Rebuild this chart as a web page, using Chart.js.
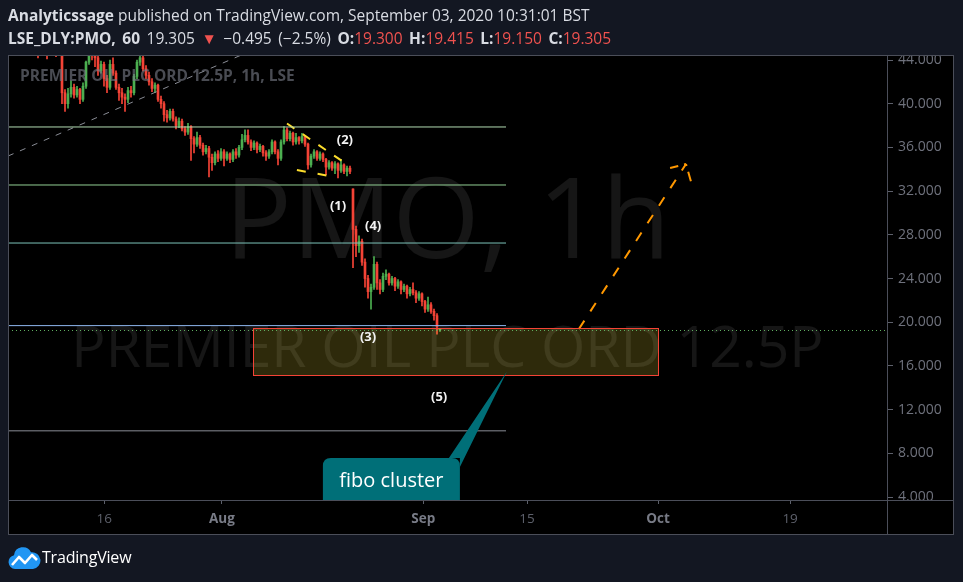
<!DOCTYPE html>
<html>
<head>
<meta charset="utf-8">
<title>PMO 1h</title>
<script src="https://cdn.jsdelivr.net/npm/chart.js@4.4.0/dist/chart.umd.min.js"></script>
<style>
  body { margin: 0; background: #131722; font-family: "Open Sans", sans-serif; }
  #wrap { position: relative; width: 963px; height: 582px; overflow: hidden; }
  #pmoChart { position: absolute; left: 0; top: 0; }
  .hdr { position: absolute; left: 8px; color: #d9dce3; font-size: 15.5px; line-height: 20px; white-space: nowrap; }
  .l1 { top: 5px; }
  .l2 { top: 28px; word-spacing: 2.5px; }
  .dn { color: #f0524f; }
  #logo { position: absolute; left: 7px; top: 546px; }
  #brand { position: absolute; left: 42px; top: 547px; color: #ffffff; font-size: 16px; line-height: 20px; letter-spacing: -0.2px; }
</style>
</head>
<body>
<div id="wrap">
  <canvas id="pmoChart" width="963" height="582"></canvas>
  <div class="hdr l1"><b>Analyticssage</b> published on TradingView.com, September 03, 2020 10:31:01 BST</div>
  <div class="hdr l2"><b>LSE_DLY:PMO, 60</b> 19.305 <span class="dn">&#9660;</span> &minus;0.495 (&minus;2.5%) <b>O:</b><span class="dn">19.300</span> <b>H:</b><span class="dn">19.415</span> <b>L:</b><span class="dn">19.150</span> <b>C:</b><span class="dn">19.305</span></div>
  <svg id="logo" width="34" height="24" viewBox="0 0 34 24">
    <path d="M8 23 a7 7 0 0 1 -1 -13.8 a9 9 0 0 1 17 -3 a7.5 7.5 0 0 1 2 16.8 z" fill="#2196f3"/>
    <polyline points="5,19 12,11 18,17 25,9 30,14" fill="none" stroke="#ffffff" stroke-width="2.6" stroke-linejoin="round"/>
  </svg>
  <div id="brand">TradingView</div>
</div>

<script>
// ---- hourly candles (one slot = one candle) ----
var firstSlot = 0;
var candleOpen = [
  47.5, 47.0, 46.8, 47.3, 46.5, 46.0, 46.4, 45.8, 46.2, 45.6,
  45.9, 45.2, 45.6, 45.3, 45.0, 45.5, 45.4, 45.0, 44.8, 41.0,
  40.0, 40.9, 41.5, 40.8, 41.3, 40.4, 41.6, 43.8, 45.2, 44.6,
  44.2, 43.0, 43.6, 42.3, 41.5, 43.6, 42.8, 41.5, 41.0, 40.6,
  40.4, 41.2, 41.0, 42.5, 43.8, 44.2, 43.2, 42.6, 42.0, 41.4,
  41.7, 40.4, 40.0, 39.0, 38.7, 39.3, 38.6, 38.0, 38.4, 37.7,
  37.4, 37.9, 36.8, 36.3, 36.9, 36.2, 35.6, 35.9, 35.1, 34.6,
  35.4, 35.0, 35.6, 35.0, 35.4, 34.9, 35.6, 35.3, 36.0, 36.7,
  37.1, 36.5, 36.0, 36.4, 35.8, 36.1, 35.5, 35.2, 35.6, 36.5,
  35.6, 35.0, 36.5, 37.6, 36.8, 37.3, 36.5, 36.9, 36.6, 37.0,
  36.3, 34.4, 35.2, 35.6, 35.0, 35.4, 34.9, 34.2, 34.6, 34.1,
  34.5, 33.9, 34.4, 33.8, 34.1, 32.2, 28.5, 27.0, 27.4, 25.5,
  24.0, 22.8, 23.2, 25.3, 23.6, 23.0, 24.2, 24.4, 23.6, 24.0,
  23.3, 23.7, 23.0, 23.3, 22.6, 23.0, 22.7, 22.2, 22.6, 21.9,
  21.2, 21.6, 21.0, 20.6, 19.3
];
var candleHigh = [
  47.8, 47.4, 47.5, 47.4, 46.7, 46.6, 46.5, 46.4, 46.3, 46.1,
  46.0, 45.8, 45.8, 45.5, 45.7, 45.8, 45.6, 45.3, 45.0, 41.3,
  41.4, 42.1, 41.8, 41.6, 41.4, 41.9, 43.9, 45.4, 45.5, 45.2,
  44.5, 43.9, 43.8, 42.6, 44.0, 44.2, 43.0, 41.8, 41.4, 40.9,
  41.5, 41.6, 42.7, 44.0, 44.7, 44.6, 43.5, 42.9, 42.3, 41.9,
  41.8, 40.7, 40.2, 39.4, 39.5, 39.5, 38.8, 38.7, 38.6, 37.9,
  38.2, 38.0, 37.0, 37.4, 37.1, 36.4, 36.2, 36.1, 35.4, 35.6,
  35.7, 35.9, 35.8, 35.6, 35.5, 35.8, 35.9, 36.2, 37.2, 37.6,
  37.6, 36.7, 36.6, 36.5, 36.3, 36.2, 35.7, 35.8, 36.7, 36.6,
  35.8, 36.7, 37.9, 37.8, 37.5, 37.4, 37.3, 37.0, 37.3, 37.1,
  36.4, 35.4, 35.8, 35.7, 35.6, 35.5, 35.0, 34.8, 34.7, 34.7,
  34.6, 34.9, 34.5, 34.3, 34.3, 32.2, 28.8, 27.9, 27.6, 25.8,
  24.3, 23.5, 26.0, 25.5, 23.9, 24.5, 24.8, 24.5, 24.2, 24.1,
  23.9, 23.8, 23.5, 23.4, 23.2, 23.6, 22.9, 22.8, 22.7, 22.0,
  22.3, 21.8, 21.2, 20.8, 19.415
];
var candleLow = [
  46.6, 46.5, 46.6, 46.3, 45.8, 45.8, 45.4, 45.6, 45.2, 45.3,
  44.2, 44.9, 44.7, 44.1, 44.8, 44.9, 44.3, 44.6, 40.0, 39.3,
  39.6, 40.6, 40.5, 40.6, 40.0, 40.2, 41.4, 43.6, 44.0, 43.4,
  42.6, 42.8, 41.6, 41.0, 41.3, 42.6, 41.3, 40.3, 40.0, 39.3,
  40.1, 40.6, 40.8, 42.3, 43.5, 43.0, 42.3, 41.7, 41.1, 41.0,
  40.2, 39.6, 38.4, 38.3, 38.5, 38.4, 37.7, 37.8, 37.5, 37.1,
  37.2, 34.8, 35.5, 36.1, 35.9, 35.3, 35.4, 33.3, 33.9, 34.4,
  34.7, 34.8, 34.3, 34.8, 34.6, 34.7, 35.0, 35.1, 35.8, 36.5,
  36.3, 35.7, 35.8, 35.5, 35.6, 35.2, 34.8, 35.0, 35.4, 35.4,
  34.4, 34.8, 36.3, 36.6, 36.6, 36.2, 36.3, 36.3, 36.4, 36.1,
  34.0, 34.2, 35.0, 34.8, 34.8, 34.7, 33.5, 34.0, 33.9, 33.6,
  33.2, 33.7, 33.6, 33.4, 33.6, 25.0, 26.0, 26.4, 25.2, 23.2,
  22.2, 21.2, 23.0, 23.0, 22.6, 22.8, 23.9, 23.4, 23.4, 22.9,
  23.1, 22.6, 22.8, 22.2, 22.4, 22.5, 21.8, 22.0, 21.5, 20.9,
  21.0, 20.8, 20.2, 18.9, 19.15
];
var candleClose = [
  47.0, 46.8, 47.3, 46.5, 46.0, 46.4, 45.8, 46.2, 45.6, 45.9,
  45.2, 45.6, 45.3, 45.0, 45.5, 45.4, 45.0, 44.8, 41.0, 40.0,
  40.9, 41.5, 40.8, 41.3, 40.4, 41.6, 43.8, 45.2, 44.6, 44.2,
  43.0, 43.6, 42.3, 41.5, 43.6, 42.8, 41.5, 41.0, 40.6, 40.4,
  41.2, 41.0, 42.5, 43.8, 44.2, 43.2, 42.6, 42.0, 41.4, 41.7,
  40.4, 40.0, 39.0, 38.7, 39.3, 38.6, 38.0, 38.4, 37.7, 37.4,
  37.9, 36.8, 36.3, 36.9, 36.2, 35.6, 35.9, 35.1, 34.6, 35.4,
  35.0, 35.6, 35.0, 35.4, 34.9, 35.6, 35.3, 36.0, 36.7, 37.1,
  36.5, 36.0, 36.4, 35.8, 36.1, 35.5, 35.2, 35.6, 36.5, 35.6,
  35.0, 36.5, 37.6, 36.8, 37.3, 36.5, 36.9, 36.6, 37.0, 36.3,
  34.4, 35.2, 35.6, 35.0, 35.4, 34.9, 34.2, 34.6, 34.1, 34.5,
  33.9, 34.4, 33.8, 34.1, 33.8, 28.5, 27.0, 27.4, 25.5, 24.0,
  22.8, 23.2, 25.3, 23.6, 23.0, 24.2, 24.4, 23.6, 24.0, 23.3,
  23.7, 23.0, 23.3, 22.6, 23.0, 22.7, 22.2, 22.6, 21.9, 21.2,
  21.6, 21.0, 20.6, 19.6, 19.305
];
var lastPrice = 19.305;

// ---- axes ----
var priceTicks = [4, 8, 12, 16, 20, 24, 28, 32, 36, 40, 44];
var timeTickSlots = [32.1, 71.3, 138.4, 173, 216.7, 260.7];
var timeTickLabels = ['16', 'Aug', 'Sep', '15', 'Oct', '19'];

// ---- drawings ----
var fibLevels = [37.87, 32.56, 27.25, 19.69, 10.06];
var fibColors = ['#b2dcb2', '#92cf94', '#7cc4b9', '#8fb8f0', '#8a8d96'];
var fibSlots = [0, 166];
var trendSlots = [0, 90];
var trendPrices = [35.21, 45.91];
var wedgeTopSlots = [93, 113.3];
var wedgeTopPrices = [38.19, 34.39];
var wedgeLowSlots = [96.3, 107.3];
var wedgeLowPrices = [33.93, 33.38];
var pathSlots = [190.3, 226];
var pathPrices = [19.38, 34.48];
var arrowSlots = [220.7, 227.7];
var arrowPrices = [34.11, 32.83];
var zoneSlots = [81.67, 216.67];
var zonePrices = [19.47, 15.17];
var waveLabels = ['(1)', '(2)', '(3)', '(4)', '(5)'];
var waveSlots = [110, 112.3, 120, 121.7, 143.7];
var wavePrices = [30.64, 36.68, 18.65, 28.81, 13.15];
var calloutText = 'fibo cluster';
var calloutSlot = 166.3;
var calloutPrice = 15.5;

var UP = '#4caf50', DOWN = '#f44336';

function seg(xs, ys) {
  return xs.map(function(v, i) { return { x: v, y: ys[i] }; });
}

var bodies = [], wicks = [], colors = [];
for (var i = 0; i < candleOpen.length; i++) {
  bodies.push({ x: firstSlot + i, y: [candleOpen[i], candleClose[i]] });
  wicks.push({ x: firstSlot + i, y: [candleLow[i], candleHigh[i]] });
  colors.push(candleClose[i] >= candleOpen[i] ? UP : DOWN);
}

var lineBase = { type: 'line', pointRadius: 0, borderWidth: 1, fill: false, tension: 0, order: 1 };
var datasets = [];
fibLevels.forEach(function(p, k) {
  datasets.push(Object.assign({}, lineBase, {
    data: seg(fibSlots, [p, p]), borderColor: fibColors[k]
  }));
});
datasets.push(Object.assign({}, lineBase, { data: seg(trendSlots, trendPrices), borderColor: '#8a8d96', borderDash: [6, 7] }));
datasets.push(Object.assign({}, lineBase, { data: seg(wedgeTopSlots, wedgeTopPrices), borderColor: '#fbdc2c', borderWidth: 2, borderDash: [9, 10] }));
datasets.push(Object.assign({}, lineBase, { data: seg(wedgeLowSlots, wedgeLowPrices), borderColor: '#fbdc2c', borderWidth: 2, borderDash: [9, 12] }));
datasets.push(Object.assign({}, lineBase, { data: seg(pathSlots, pathPrices), borderColor: '#ff9800', borderWidth: 2, borderDash: [10, 11] }));
datasets.push(Object.assign({}, lineBase, { data: [{ x: pathSlots[1], y: pathPrices[1] }, { x: arrowSlots[0], y: arrowPrices[0] }], borderColor: '#ff9800', borderWidth: 2, borderDash: [2, 6, 10, 20] }));
datasets.push(Object.assign({}, lineBase, { data: [{ x: pathSlots[1], y: pathPrices[1] }, { x: arrowSlots[1], y: arrowPrices[1] }], borderColor: '#ff9800', borderWidth: 2, borderDash: [2, 6, 10, 20] }));
datasets.push({ type: 'bar', data: bodies, backgroundColor: colors, barThickness: 2, minBarLength: 1, grouped: false, order: 10 });
datasets.push({ type: 'bar', data: wicks, backgroundColor: colors, barThickness: 1, grouped: false, order: 11 });

// background, watermark, zone, labels, callout, frame
var overlay = {
  id: 'overlay',
  beforeDraw: function(chart) {
    var c = chart.ctx, a = chart.chartArea, sx = chart.scales.x, sy = chart.scales.y;
    c.save();
    c.fillStyle = '#000';
    c.fillRect(a.left, a.top, sy.right - a.left, sx.bottom - a.top);
    c.beginPath();
    c.rect(a.left, a.top, sy.right - a.left, sx.bottom - a.top);
    c.clip();
  },
  beforeDatasetsDraw: function(chart) {
    var c = chart.ctx, a = chart.chartArea;
    var cx = (a.left + a.right) / 2;
    c.save();
    c.beginPath(); c.rect(a.left, a.top, a.right - a.left, a.bottom - a.top); c.clip();
    c.fillStyle = 'rgba(255,255,255,0.085)';
    c.textAlign = 'center';
    c.textBaseline = 'middle';
    c.font = '112px "Open Sans"';
    c.fillText('PMO, 1h', cx, a.top + 171);
    c.font = '57px "Open Sans"';
    c.fillText('PREMIER OIL PLC ORD 12.5P', cx, a.top + 296);
    c.restore();
  },
  afterDatasetsDraw: function(chart) {
    var c = chart.ctx, a = chart.chartArea, sx = chart.scales.x, sy = chart.scales.y;
    c.save();
    c.beginPath(); c.rect(a.left, a.top, a.right - a.left, a.bottom - a.top); c.clip();

    // target zone
    var zl = sx.getPixelForValue(zoneSlots[0]), zr = sx.getPixelForValue(zoneSlots[1]);
    var zt = sy.getPixelForValue(zonePrices[0]), zb = sy.getPixelForValue(zonePrices[1]);
    c.fillStyle = 'rgba(255,235,59,0.18)';
    c.fillRect(zl, zt, zr - zl, zb - zt);
    c.strokeStyle = '#f44336';
    c.lineWidth = 1;
    c.strokeRect(Math.round(zl) + 0.5, Math.round(zt) + 0.5, Math.round(zr - zl), Math.round(zb - zt));

    // last price line
    var lp = Math.round(sy.getPixelForValue(lastPrice)) + 0.5;
    c.strokeStyle = '#5fae5f';
    c.setLineDash([1, 3]);
    c.beginPath(); c.moveTo(a.left, lp); c.lineTo(a.right, lp); c.stroke();
    c.setLineDash([]);

    // symbol title
    c.font = 'bold 15.5px "Open Sans"';
    c.fillStyle = 'rgba(120,123,134,0.62)';
    c.textAlign = 'left';
    c.textBaseline = 'middle';
    c.fillText('PREMIER OIL PLC ORD 12.5P, 1h, LSE', a.left + 12, a.top + 22);

    // wave count
    c.font = 'bold 13px "Open Sans"';
    c.fillStyle = '#f2f2f2';
    c.textAlign = 'center';
    waveLabels.forEach(function(t, k) {
      c.fillText(t, sx.getPixelForValue(waveSlots[k]), sy.getPixelForValue(wavePrices[k]));
    });

    // callout
    var tx = sx.getPixelForValue(calloutSlot), ty = sy.getPixelForValue(calloutPrice);
    var bl = tx - 184, bt = ty + 86.5, bw = 137, bh = 62, r = 8;
    c.fillStyle = '#006f78';
    c.beginPath();
    c.moveTo(bl + r, bt);
    c.lineTo(bl + bw - r, bt);
    c.quadraticCurveTo(bl + bw, bt, bl + bw, bt + r);
    c.lineTo(bl + bw, bt + bh - r);
    c.quadraticCurveTo(bl + bw, bt + bh, bl + bw - r, bt + bh);
    c.lineTo(bl + r, bt + bh);
    c.quadraticCurveTo(bl, bt + bh, bl, bt + bh - r);
    c.lineTo(bl, bt + r);
    c.quadraticCurveTo(bl, bt, bl + r, bt);
    c.closePath();
    c.fill();
    c.beginPath();
    c.moveTo(bl + bw - 11, bt);
    c.lineTo(tx, ty);
    c.lineTo(bl + bw, bt + 9);
    c.lineTo(bl + bw, bt);
    c.closePath();
    c.fill();
    c.fillStyle = '#ffffff';
    c.font = '20px "Open Sans"';
    c.textAlign = 'center';
    c.textBaseline = 'middle';
    c.fillText(calloutText, bl + bw / 2, bt + 23);
    c.restore();
  },
  afterDraw: function(chart) {
    var c = chart.ctx, a = chart.chartArea, sx = chart.scales.x, sy = chart.scales.y;
    c.restore();
    c.save();
    c.strokeStyle = '#4b4e59';
    c.lineWidth = 1;
    c.strokeRect(a.left + 0.5, a.top + 0.5, sy.right - a.left - 1, sx.bottom - a.top - 1);
    c.beginPath();
    c.moveTo(a.right + 0.5, a.top); c.lineTo(a.right + 0.5, sx.bottom);
    c.moveTo(a.left, a.bottom + 0.5); c.lineTo(sy.right, a.bottom + 0.5);
    c.stroke();
    c.restore();
  }
};

var ctx = document.getElementById('pmoChart').getContext('2d');
var pmoChart = new Chart(ctx, {
  type: 'bar',
  data: { datasets: datasets },
  options: {
    responsive: false,
    animation: false,
    devicePixelRatio: 1,
    events: [],
    layout: { padding: { left: 8, top: 55, right: 9, bottom: 47 } },
    plugins: { legend: { display: false }, tooltip: { enabled: false } },
    scales: {
      x: {
        type: 'linear',
        min: 0,
        max: 293,
        offset: false,
        border: { display: false },
        grid: { offset: false, drawOnChartArea: false, drawTicks: true, tickLength: 4, color: '#5d606b' },
        afterBuildTicks: function(scale) {
          scale.ticks = timeTickSlots.map(function(v) { return { value: v }; });
        },
        afterFit: function(scale) { scale.height = 35; },
        ticks: {
          padding: 7,
          maxRotation: 0,
          autoSkip: false,
          callback: function(v, idx) { return timeTickLabels[idx]; },
          color: function(c) { return isNaN(timeTickLabels[c.index]) ? '#787b86' : '#5d606b'; },
          font: function(c) {
            return { family: 'Open Sans', size: 13.5, weight: isNaN(timeTickLabels[c.index]) ? 'bold' : 'normal' };
          }
        }
      },
      y: {
        position: 'right',
        min: 3.73,
        max: 44.458,
        border: { display: false },
        grid: { drawOnChartArea: false, drawTicks: true, tickLength: 6, color: '#5d606b' },
        afterBuildTicks: function(scale) {
          scale.ticks = priceTicks.map(function(v) { return { value: v }; });
        },
        afterFit: function(scale) { scale.width = 67; },
        ticks: {
          padding: 5,
          crossAlign: 'near',
          color: '#6f727d',
          font: { family: 'Open Sans', size: 14 },
          callback: function(v) { return Number(v).toFixed(3); }
        }
      }
    }
  },
  plugins: [overlay]
});
</script>
</body>
</html>
